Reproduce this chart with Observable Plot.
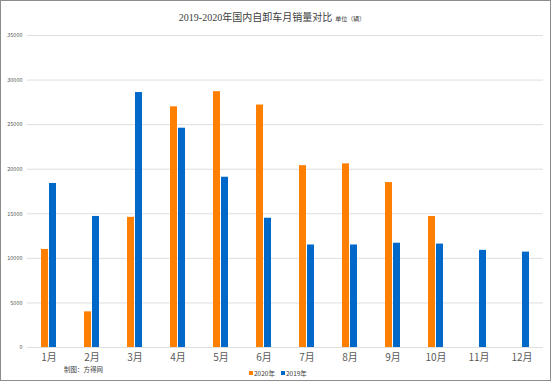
<!DOCTYPE html>
<html>
<head>
<meta charset="utf-8">
<script src="https://cdn.jsdelivr.net/npm/d3@7"></script>
<script src="https://cdn.jsdelivr.net/npm/@observablehq/plot@0.6"></script>
<style>
  html, body { margin: 0; padding: 0; background: #fff; }
  body { position: relative; width: 554px; height: 384px; overflow: hidden; font-family: "Noto Sans CJK SC", sans-serif; }
  #frame { position: absolute; left: 0; top: 0; width: 551px; height: 381px; box-sizing: border-box; border: 1px solid #8c8c8c; }
  #title { position: absolute; top: 9px; left: 0; width: 544px; text-align: center; font-size: 10px; color: #404040; font-family: "Liberation Serif", "Noto Sans CJK SC", serif; white-space: nowrap; }
  #title .unit { font-size: 6px; margin-left: 3px; }
  #chart { position: absolute; top: 28px; left: 0; }
  #caption { position: absolute; top: 364px; left: 64px; font-size: 6.5px; color: #404040; }
  #legend { position: absolute; top: 368px; left: 249px; font-size: 6.5px; color: #404040; display: flex; align-items: center; white-space: nowrap; }
  #legend .sw { display: inline-block; width: 4px; height: 4px; margin-right: 1px; }
  #legend .item { display: flex; align-items: center; margin-right: 6px; }
</style>
</head>
<body>
<div id="frame"></div>
<div id="title">2019-2020年国内自卸车月销量对比<span class="unit">单位（辆）</span></div>
<div id="chart"></div>
<div id="caption">制图：方得网</div>
<div id="legend"></div>
<script>
const months = ["1月","2月","3月","4月","5月","6月","7月","8月","9月","10月","11月","12月"];
const seriesNames = ["2020年","2019年"];
const seriesColors = ["#ff7f00","#0068c8"];
const sales2020 = [11000, 4000, 14600, 27000, 28700, 27200, 20400, 20600, 18500, 14700, null, null];
const sales2019 = [18400, 14700, 28600, 24600, 19100, 14500, 11500, 11500, 11700, 11600, 10900, 10700];
const yTicks = [0, 5000, 10000, 15000, 20000, 25000, 30000, 35000];

const data = [];
months.forEach((m, i) => {
  if (sales2020[i] != null) data.push({month: m, series: seriesNames[0], value: sales2020[i]});
  if (sales2019[i] != null) data.push({month: m, series: seriesNames[1], value: sales2019[i]});
});

const chart = Plot.plot({
  width: 554,
  height: 337,
  marginLeft: 26,
  marginRight: 11,
  marginTop: 7,
  marginBottom: 18,
  style: {fontFamily: "'Noto Sans CJK SC', sans-serif", color: "#595959", background: "transparent"},
  fx: {domain: months, paddingInner: 0, paddingOuter: 0, label: null, axis: "bottom", tickSize: 0, tickPadding: 6, fontSize: 6.5},
  x: {domain: seriesNames, paddingInner: 0.12, paddingOuter: 1.59, axis: null},
  y: {domain: [0, 35000], ticks: yTicks, tickSize: 0, tickPadding: 5, label: null, tickFormat: d3.format("d"), grid: false},
  color: {domain: seriesNames, range: seriesColors},
  marks: [
    Plot.ruleY(yTicks, {stroke: "#dedede", strokeWidth: 1}),
    Plot.axisY({ticks: yTicks, tickSize: 0, tickPadding: 5, tickFormat: d3.format("d"), label: null, fontSize: 5.5, fill: "#595959"}),
    Plot.barY(data, {fx: "month", x: "series", y: "value", fill: "series"})
  ]
});
document.getElementById("chart").appendChild(chart);

const legend = document.getElementById("legend");
seriesNames.forEach((n, i) => {
  const item = document.createElement("span");
  item.className = "item";
  const sw = document.createElement("span");
  sw.className = "sw";
  sw.style.background = seriesColors[i];
  item.appendChild(sw);
  item.appendChild(document.createTextNode(n));
  legend.appendChild(item);
});
</script>
</body>
</html>
